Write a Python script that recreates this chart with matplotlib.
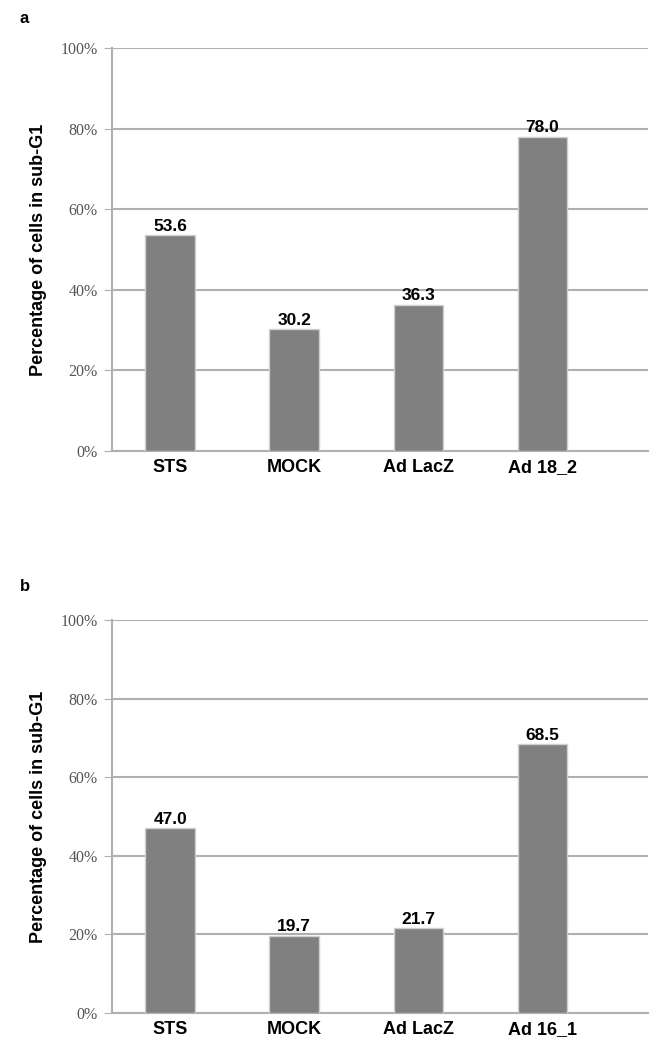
import matplotlib.pyplot as plt
import numpy as np

categories_a = ['STS', 'MOCK', 'Ad LacZ', 'Ad 18_2']
values_a = [53.6, 30.2, 36.3, 78.0]
categories_b = ['STS', 'MOCK', 'Ad LacZ', 'Ad 16_1']
values_b = [47.0, 19.7, 21.7, 68.5]
yticks = [0, 20, 40, 60, 80, 100]
ytick_labels = ['0%', '20%', '40%', '60%', '80%', '100%']

fig = plt.figure(figsize=(6.5, 10.52), dpi=100)

def panel(rect, cats, vals, letter, letter_y):
    ax = fig.add_axes(rect)
    x = np.arange(len(cats))
    ax.bar(x, vals, width=0.4, color='#808080', edgecolor='#d0d0d0', linewidth=1, zorder=3)
    for xi, v in zip(x, vals):
        ax.text(xi, v + 0.3, f'{v:.1f}', ha='center', va='bottom',
                fontsize=12.5, fontweight='bold', family='Liberation Sans', zorder=4)
    ax.set_ylim(0, 100)
    ax.set_xlim(-0.47, 3.85)
    ax.set_yticks(yticks)
    ax.set_yticklabels(ytick_labels, family='Liberation Serif', fontsize=11.5, color='#555555')
    ax.set_xticks(x)
    ax.set_xticklabels(cats, fontsize=13, fontweight='bold', family='Liberation Sans')
    ax.tick_params(axis='y', length=6, color='#b0b0b0', pad=4)
    ax.tick_params(axis='x', length=0, pad=6)
    ax.grid(axis='y', color='#b0b0b0', linewidth=1.5, zorder=0)
    for s in ['top', 'right']:
        ax.spines[s].set_visible(False)
    ax.spines['left'].set_color('#b0b0b0')
    ax.spines['left'].set_linewidth(1.5)
    ax.spines['bottom'].set_color('#b0b0b0')
    ax.spines['bottom'].set_linewidth(1.5)
    ax.set_ylabel('Percentage of cells in sub-G1', fontsize=13, fontweight='bold',
                  family='Liberation Sans', labelpad=10)
    fig.text(0.03, letter_y, letter, fontsize=12, fontweight='bold', family='Liberation Sans')
    return ax

panel([0.172, 0.5713, 0.825, 0.3831], categories_a, values_a, 'a', 0.978)
panel([0.172, 0.0371, 0.825, 0.3735], categories_b, values_b, 'b', 0.438)

plt.savefig('out.png', dpi=100)
